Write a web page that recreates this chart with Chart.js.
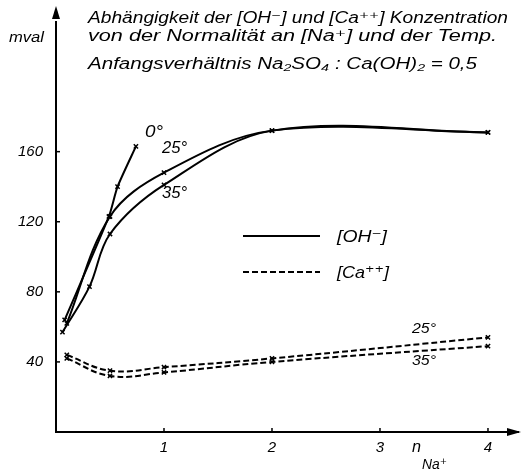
<!DOCTYPE html>
<html>
<head>
<meta charset="utf-8">
<script src="https://cdn.jsdelivr.net/npm/chart.js@4.4.1/dist/chart.umd.min.js"></script>
<style>
	body { margin: 0; background: #fff; }
	#wrap { width: 526px; height: 475px; }
</style>
</head>
<body>
<div id="wrap"><canvas id="chart" width="526" height="475"></canvas></div>
<script>
// values (x = n Na+, y = mval)
const oh0X = [0.08, 0.49, 0.57, 0.74];
const oh0Y = [64, 123, 140, 163];
const oh25X = [0.1, 0.5, 1, 2, 4];
const oh25Y = [62, 123, 148, 172, 171];
const oh35X = [0.06, 0.31, 0.5, 1, 2, 4];
const oh35Y = [57, 83, 113, 141, 172, 171];
const ca25X = [0.1, 0.5, 1, 2, 4];
const ca25Y = [44, 35, 37, 42, 54];
const ca35X = [0.1, 0.5, 1, 2, 4];
const ca35Y = [42, 32, 34, 40, 49];
const xTicks = [1, 2, 3, 4];
const yTicks = [40, 80, 120, 160];

const titleLines = [
	'Abhängigkeit der [OH⁻] und [Ca⁺⁺] Konzentration',
	'von der Normalität an [Na⁺] und der Temp.',
	'Anfangsverhältnis Na₂SO₄ : Ca(OH)₂ = 0,5',
];

function pts(xs, ys) {
	return xs.map((x, i) => ({ x: x, y: ys[i] }));
}

function fitText(ctx, text, x, y, w, font) {
	ctx.font = font;
	let m = ctx.measureText(text).width;
	ctx.save();
	ctx.translate(x, y);
	ctx.scale(w / m, 1);
	ctx.fillText(text, 0, 0);
	ctx.restore();
}

const ital = (s) => 'italic ' + s + 'px "Liberation Sans", "DejaVu Sans", sans-serif';

const decorations = {
	id: 'decorations',
	afterDraw(chart) {
		const ctx = chart.ctx;
		const xs = chart.scales.x;
		const ys = chart.scales.y;
		const x0 = xs.getPixelForValue(0);
		const y0 = ys.getPixelForValue(0);
		ctx.save();
		ctx.fillStyle = '#000';
		ctx.strokeStyle = '#000';

		// axis arrows
		ctx.beginPath();
		ctx.moveTo(x0, 6);
		ctx.lineTo(x0 - 4, 19);
		ctx.lineTo(x0 + 4, 19);
		ctx.closePath();
		ctx.fill();
		ctx.beginPath();
		ctx.moveTo(521, y0);
		ctx.lineTo(507, y0 - 4);
		ctx.lineTo(507, y0 + 4);
		ctx.closePath();
		ctx.fill();

		// tick marks inside the axes
		ctx.lineWidth = 1.5;
		xTicks.forEach((v) => {
			let px = xs.getPixelForValue(v);
			ctx.beginPath();
			ctx.moveTo(px, y0);
			ctx.lineTo(px, y0 - 4);
			ctx.stroke();
		});
		yTicks.forEach((v) => {
			let py = ys.getPixelForValue(v);
			ctx.beginPath();
			ctx.moveTo(x0, py);
			ctx.lineTo(x0 + 4, py);
			ctx.stroke();
		});

		// title
		ctx.textBaseline = 'alphabetic';
		ctx.textAlign = 'left';
		fitText(ctx, titleLines[0], 88, 23, 420, ital(16));
		fitText(ctx, titleLines[1], 88, 41, 409, ital(16));
		fitText(ctx, titleLines[2], 88, 69, 389, ital(16));
		fitText(ctx, 'mval', 9, 42, 35, ital(14));

		// x axis label
		fitText(ctx, 'n', 412, 452, 9, ital(16));
		fitText(ctx, 'Na⁺', 422, 469, 25, ital(15));

		// curve labels
		fitText(ctx, '0°', 145, 137, 18, ital(16));
		fitText(ctx, '25°', 162, 153, 25, ital(16));
		fitText(ctx, '35°', 162, 198, 25, ital(16));
		fitText(ctx, '25°', 412, 333, 24, ital(15));
		fitText(ctx, '35°', 412, 365, 24, ital(15));

		// legend
		ctx.lineWidth = 2;
		ctx.beginPath();
		ctx.moveTo(243, 236);
		ctx.lineTo(320, 236);
		ctx.stroke();
		ctx.setLineDash([6, 3]);
		ctx.beginPath();
		ctx.moveTo(243, 272);
		ctx.lineTo(320, 272);
		ctx.stroke();
		ctx.setLineDash([]);
		ctx.textBaseline = 'middle';
		fitText(ctx, '[OH⁻]', 337, 237, 50, ital(17));
		fitText(ctx, '[Ca⁺⁺]', 337, 273, 52, ital(17));
		ctx.restore();
	},
};

function series(xs, ys, dashed, tension) {
	return {
		data: pts(xs, ys),
		showLine: true,
		borderColor: '#000',
		backgroundColor: '#000',
		borderWidth: 2,
		borderDash: dashed ? [6, 3] : [],
		tension: tension,
		pointStyle: 'crossRot',
		pointRadius: 3,
		pointBorderWidth: 1.5,
	};
}

new Chart(document.getElementById('chart'), {
	type: 'scatter',
	data: {
		datasets: [
			series(oh0X, oh0Y, false, 0.2),
			series(oh25X, oh25Y, false, 0.35),
			series(oh35X, oh35Y, false, 0.35),
			series(ca25X, ca25Y, true, 0.4),
			series(ca35X, ca35Y, true, 0.4),
		],
	},
	options: {
		responsive: false,
		animation: false,
		layout: { padding: { top: 10, right: 8, left: 0, bottom: 0 } },
		plugins: {
			legend: { display: false },
			tooltip: { enabled: false },
		},
		scales: {
			x: {
				type: 'linear',
				min: 0,
				max: 4.278,
				afterBuildTicks: (scale) => {
					scale.ticks = xTicks.map((v) => ({ value: v }));
				},
				afterFit: (scale) => {
					scale.height = 43;
				},
				grid: { display: false, drawTicks: false },
				border: { display: true, color: '#000', width: 2 },
				ticks: {
					color: '#000',
					padding: 7,
					font: { family: '"Liberation Sans", sans-serif', style: 'italic', size: 15 },
				},
			},
			y: {
				type: 'linear',
				min: 0,
				max: 234,
				afterBuildTicks: (scale) => {
					scale.ticks = yTicks.map((v) => ({ value: v }));
				},
				afterFit: (scale) => {
					scale.width = 56;
				},
				grid: { display: false, drawTicks: false },
				border: { display: true, color: '#000', width: 2 },
				ticks: {
					color: '#000',
					padding: 13,
					font: { family: '"Liberation Sans", sans-serif', style: 'italic', size: 15 },
				},
			},
		},
	},
	plugins: [decorations],
});
</script>
</body>
</html>
